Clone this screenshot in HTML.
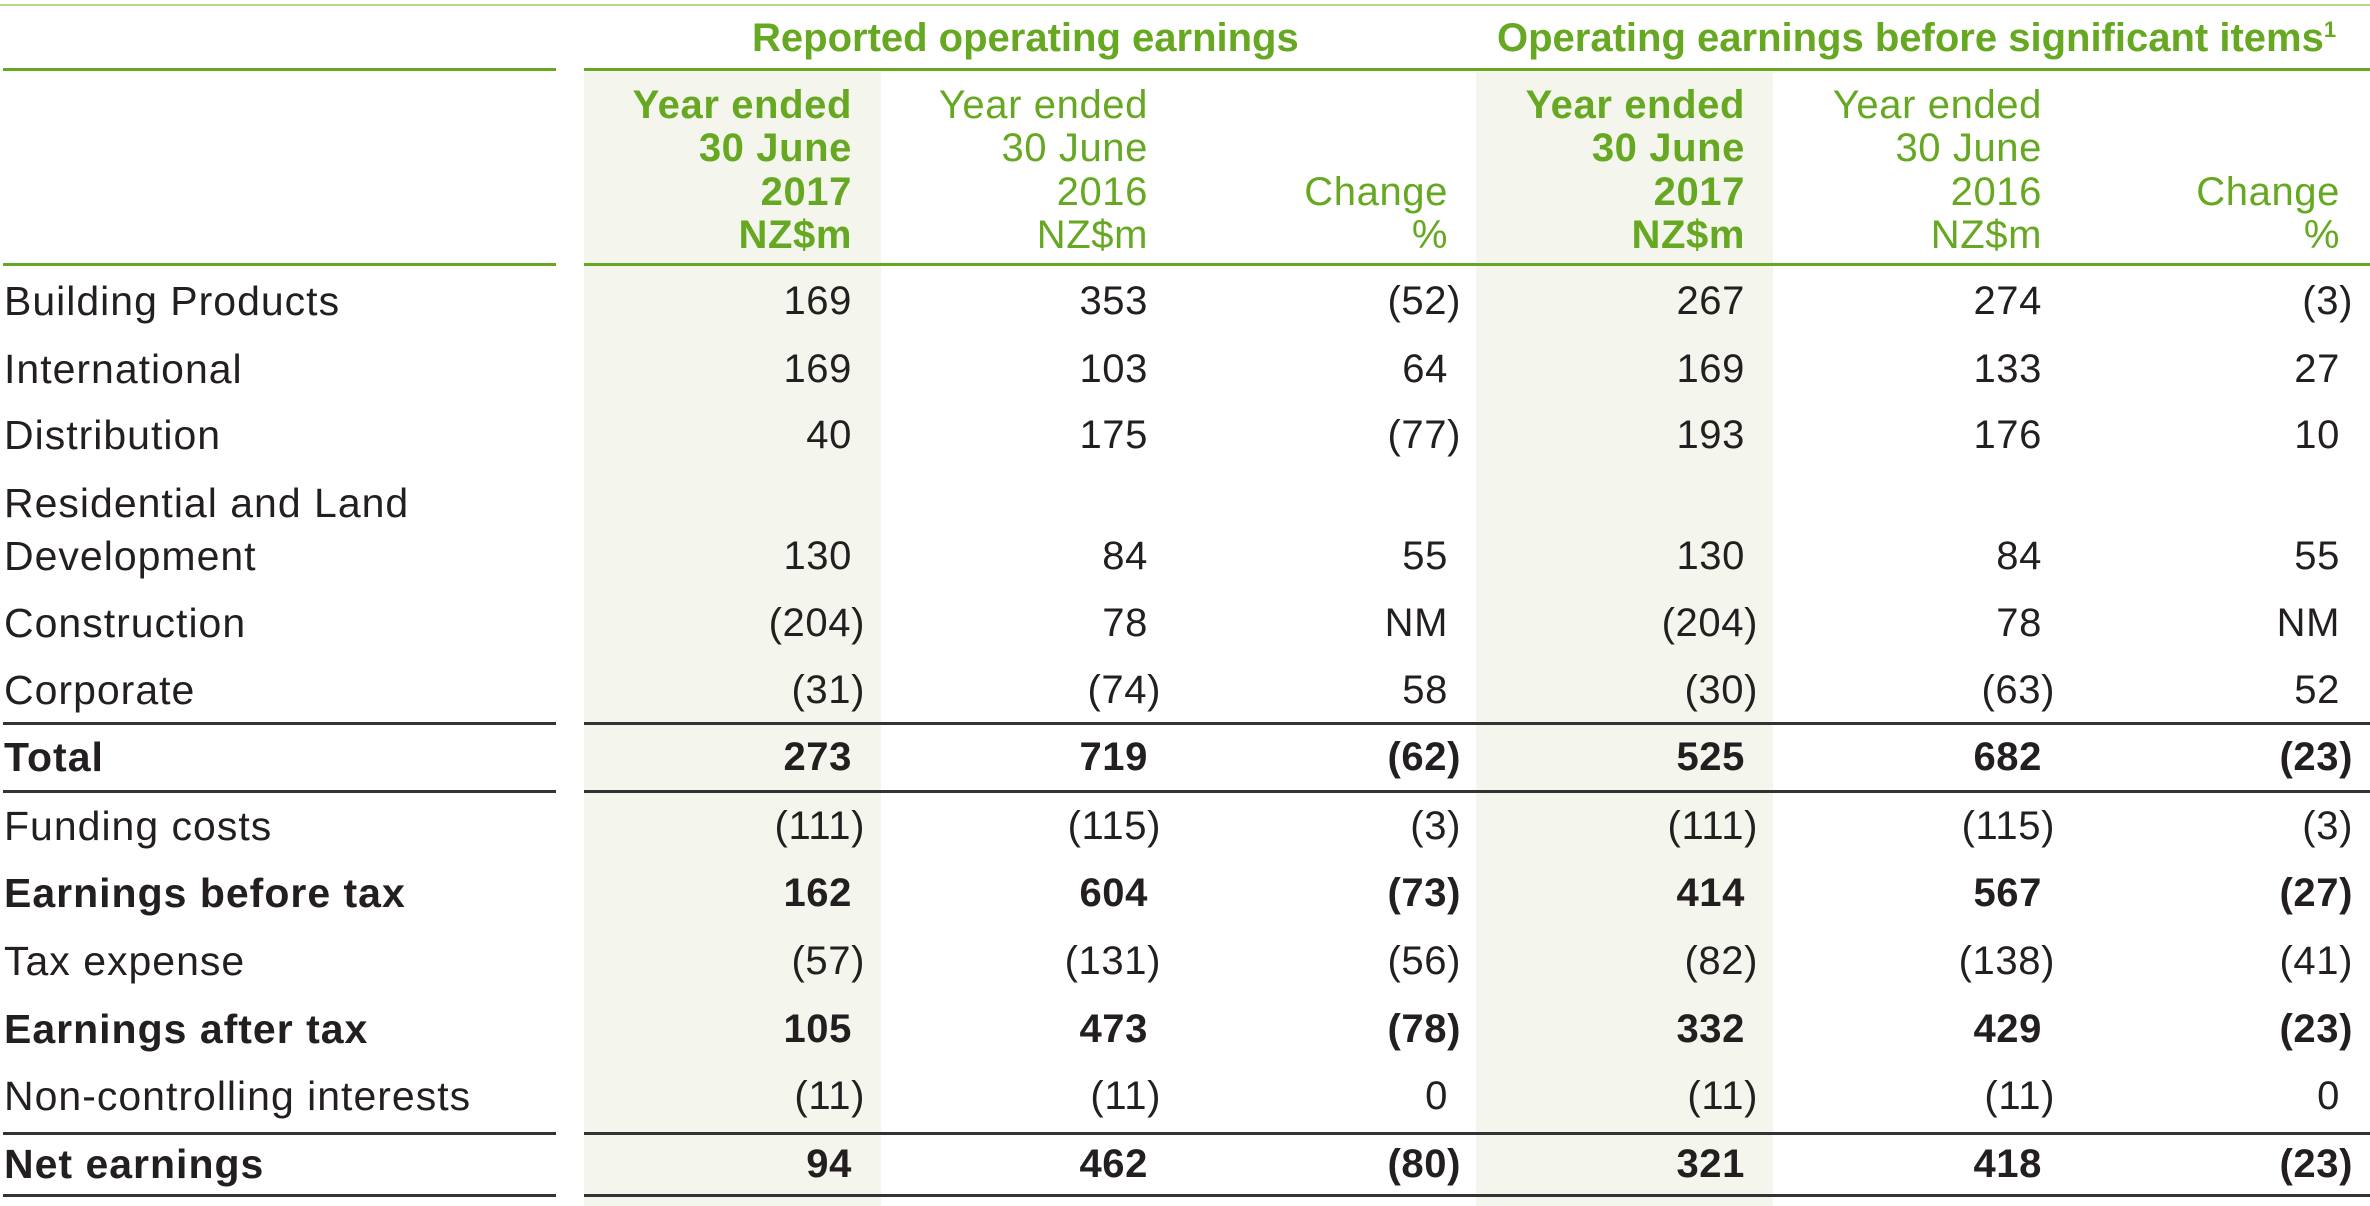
<!DOCTYPE html>
<html><head><meta charset="utf-8"><style>
html,body{margin:0;padding:0;background:#fff;}
body{width:2370px;height:1206px;position:relative;overflow:hidden;font-family:"Liberation Sans",sans-serif;color:#231f20;}
.a{position:absolute;white-space:nowrap;line-height:44px;font-size:40px;letter-spacing:0.6px;}
.lb{font-size:41px;letter-spacing:1px;}
.g{color:#66a821;}
.b{font-weight:bold;}
.p{margin-right:-13px;}
.ln{position:absolute;height:3px;}
.sh{position:absolute;background:#f4f5ec;top:72px;height:1134px;}
sup{font-size:22px;line-height:0;vertical-align:14px;}
</style></head><body>
<div class="sh" style="left:584px;width:297px"></div>
<div class="sh" style="left:1476px;width:297px"></div>
<div class="ln" style="left:0;top:4px;width:2370px;height:2px;background:#b5d78f"></div>
<div class="a g b" style="left:752px;top:16px;font-size:40px;letter-spacing:0">Reported operating earnings</div>
<div class="a g b" style="left:1497px;top:16px;font-size:40px;letter-spacing:0">Operating earnings before significant items<sup>1</sup></div>
<div class="ln" style="left:3px;top:68px;width:553px;background:#66a821"></div>
<div class="ln" style="left:584px;top:68px;width:1786px;background:#66a821"></div>
<div class="ln" style="left:3px;top:263px;width:553px;background:#66a821"></div>
<div class="ln" style="left:584px;top:263px;width:1786px;background:#66a821"></div>
<div id="c"></div>
<script>
var R=[852,1148,1448,1745,2042,2340];
var h='';
function cell(r,cy,t,cls){h+='<div class="a '+cls+'" style="right:'+(2370-r)+'px;top:'+(cy-22)+'px;text-align:right">'+t+'</div>';}
var hy=[105,148,192,235];
var hd=[["Year ended","30 June","2017","NZ$m"],["Year ended","30 June","2016","NZ$m"],["","","Change","%"]];
for(var k=0;k<6;k++){var d=hd[k%3];for(var j=0;j<4;j++)if(d[j])cell(R[k],hy[j],d[j],'g'+(k%3==0?' b':''));}
var rows=[
["Building Products",301,["169","353","(52)","267","274","(3)"]],
["International",369,["169","103","64","169","133","27"]],
["Distribution",435,["40","175","(77)","193","176","10"]],
["Residential and Land",503,null],
["Development",556,["130","84","55","130","84","55"]],
["Construction",623,["(204)","78","NM","(204)","78","NM"]],
["Corporate",690,["(31)","(74)","58","(30)","(63)","52"]],
["Total",757,["273","719","(62)","525","682","(23)"],1],
["Funding costs",826,["(111)","(115)","(3)","(111)","(115)","(3)"]],
["Earnings before tax",893,["162","604","(73)","414","567","(27)"],1],
["Tax expense",961,["(57)","(131)","(56)","(82)","(138)","(41)"]],
["Earnings after tax",1029,["105","473","(78)","332","429","(23)"],1],
["Non-controlling interests",1096,["(11)","(11)","0","(11)","(11)","0"]],
["Net earnings",1164,["94","462","(80)","321","418","(23)"],1]];
rows.forEach(function(r){var c=r[3]?'b':'';
h+='<div class="a lb '+c+'" style="left:4px;top:'+(r[1]-22)+'px">'+r[0]+'</div>';
if(r[2])r[2].forEach(function(v,i){var t=v;if(v.charAt(v.length-1)==')')t=v.slice(0,-1)+'<span class="p">)</span>';cell(R[i],r[1],t,c);});});
[723,791,1133,1195].forEach(function(y){
h+='<div class="ln" style="left:3px;top:'+(y-1)+'px;width:553px;background:#333"></div>';
h+='<div class="ln" style="left:584px;top:'+(y-1)+'px;width:1786px;background:#333"></div>';});
document.getElementById('c').innerHTML=h;
</script>
</body></html>
